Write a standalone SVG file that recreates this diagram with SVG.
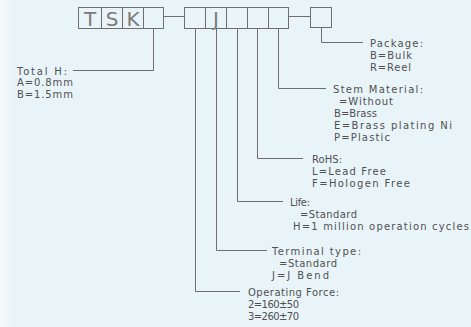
<svg xmlns="http://www.w3.org/2000/svg" width="471" height="327" viewBox="0 0 471 327">
  <defs>
    <linearGradient id="edge" x1="0" y1="0" x2="1" y2="0">
      <stop offset="0" stop-color="#f3fbfb"/>
      <stop offset="1" stop-color="#e9f4f9"/>
    </linearGradient>
  </defs>
  <style>
    .bx { fill: none; stroke: #6e6e6e; stroke-width: 1; }
    .ln { fill: none; stroke: #6e6e6e; stroke-width: 1; }
    .code { font-family: "DejaVu Sans", "Liberation Sans", sans-serif; font-size: 20px; fill: #7a7a7a; text-anchor: middle; }
    .t { font-family: "DejaVu Sans", "Liberation Sans", sans-serif; font-size: 10px; fill: #505050; }
  </style>
  <rect x="0" y="0" width="471" height="327" fill="#e9f4f9"/>
  <rect x="0" y="0" width="14" height="327" fill="url(#edge)"/>

  <g id="code-tsk">
    <rect class="bx" x="78.5" y="7.5" width="85" height="21"/>
    <line class="bx" x1="101.5" y1="7.5" x2="101.5" y2="28.5"/>
    <line class="bx" x1="122.5" y1="7.5" x2="122.5" y2="28.5"/>
    <line class="bx" x1="143.5" y1="7.5" x2="143.5" y2="28.5"/>
    <text class="code" x="90" y="25.5">T</text>
    <text class="code" x="112" y="25.5">S</text>
    <text class="code" x="133" y="25.5">K</text>
  </g>
  <g id="code-options">
    <rect class="bx" x="184.5" y="7.5" width="104" height="21"/>
    <line class="bx" x1="205.5" y1="7.5" x2="205.5" y2="28.5"/>
    <line class="bx" x1="226.5" y1="7.5" x2="226.5" y2="28.5"/>
    <line class="bx" x1="247.5" y1="7.5" x2="247.5" y2="28.5"/>
    <line class="bx" x1="268.5" y1="7.5" x2="268.5" y2="28.5"/>
    <text class="code" x="216" y="25.5">J</text>
  </g>
  <g id="code-package">
    <rect class="bx" x="310.5" y="7.5" width="21" height="20"/>
  </g>

  <g id="connectors">
    <line class="ln" x1="163.5" y1="16.5" x2="184.5" y2="16.5"/>
    <line class="ln" x1="288.5" y1="16.5" x2="310.5" y2="16.5"/>
    <polyline class="ln" points="153.5,28.5 153.5,70.5 73,70.5"/>
    <polyline class="ln" points="321.5,27.5 321.5,42.5 363,42.5"/>
    <polyline class="ln" points="278.5,28.5 278.5,88.5 326,88.5"/>
    <polyline class="ln" points="257.5,28.5 257.5,158.5 303,158.5"/>
    <polyline class="ln" points="237.5,28.5 237.5,201.5 283,201.5"/>
    <polyline class="ln" points="216.5,28.5 216.5,250.5 267,250.5"/>
    <polyline class="ln" points="195.5,28.5 195.5,291.5 240,291.5"/>
  </g>

  <g id="total-h">
    <text class="t" x="17" y="74.5" textLength="50">Total H:</text>
    <text class="t" x="17" y="86" textLength="56">A=0.8mm</text>
    <text class="t" x="17" y="97.5" textLength="56">B=1.5mm</text>
  </g>
  <g id="package">
    <text class="t" x="370" y="46.5" textLength="53">Package:</text>
    <text class="t" x="370" y="58.5" textLength="42">B=Bulk</text>
    <text class="t" x="370" y="70.5" textLength="41">R=Reel</text>
  </g>
  <g id="stem-material">
    <text class="t" x="333" y="92.5" textLength="90">Stem Material:</text>
    <text class="t" x="339" y="104.5" textLength="54">=Without</text>
    <text class="t" x="334" y="116.5" textLength="43">B=Brass</text>
    <text class="t" x="334" y="128.5" textLength="118">E=Brass plating Ni</text>
    <text class="t" x="334" y="140.5" textLength="56">P=Plastic</text>
  </g>
  <g id="rohs">
    <text class="t" x="312" y="162.5" textLength="30">RoHS:</text>
    <text class="t" x="312" y="174.5" textLength="74">L=Lead Free</text>
    <text class="t" x="312" y="186.5" textLength="98">F=Hologen Free</text>
  </g>
  <g id="life">
    <text class="t" x="290" y="205.5" textLength="20">Life:</text>
    <text class="t" x="300" y="217.5" textLength="57">=Standard</text>
    <text class="t" x="293" y="229.5" textLength="176">H=1 million operation cycles</text>
  </g>
  <g id="terminal-type">
    <text class="t" x="272" y="254.5" textLength="89">Terminal type:</text>
    <text class="t" x="279" y="266.5" textLength="58">=Standard</text>
    <text class="t" x="272" y="278.5" textLength="57">J=J Bend</text>
  </g>
  <g id="operating-force">
    <text class="t" x="248" y="295.5" textLength="91">Operating Force:</text>
    <text class="t" x="248" y="307.5" textLength="51">2=160±50</text>
    <text class="t" x="248" y="319.5" textLength="51">3=260±70</text>
  </g>
</svg>
